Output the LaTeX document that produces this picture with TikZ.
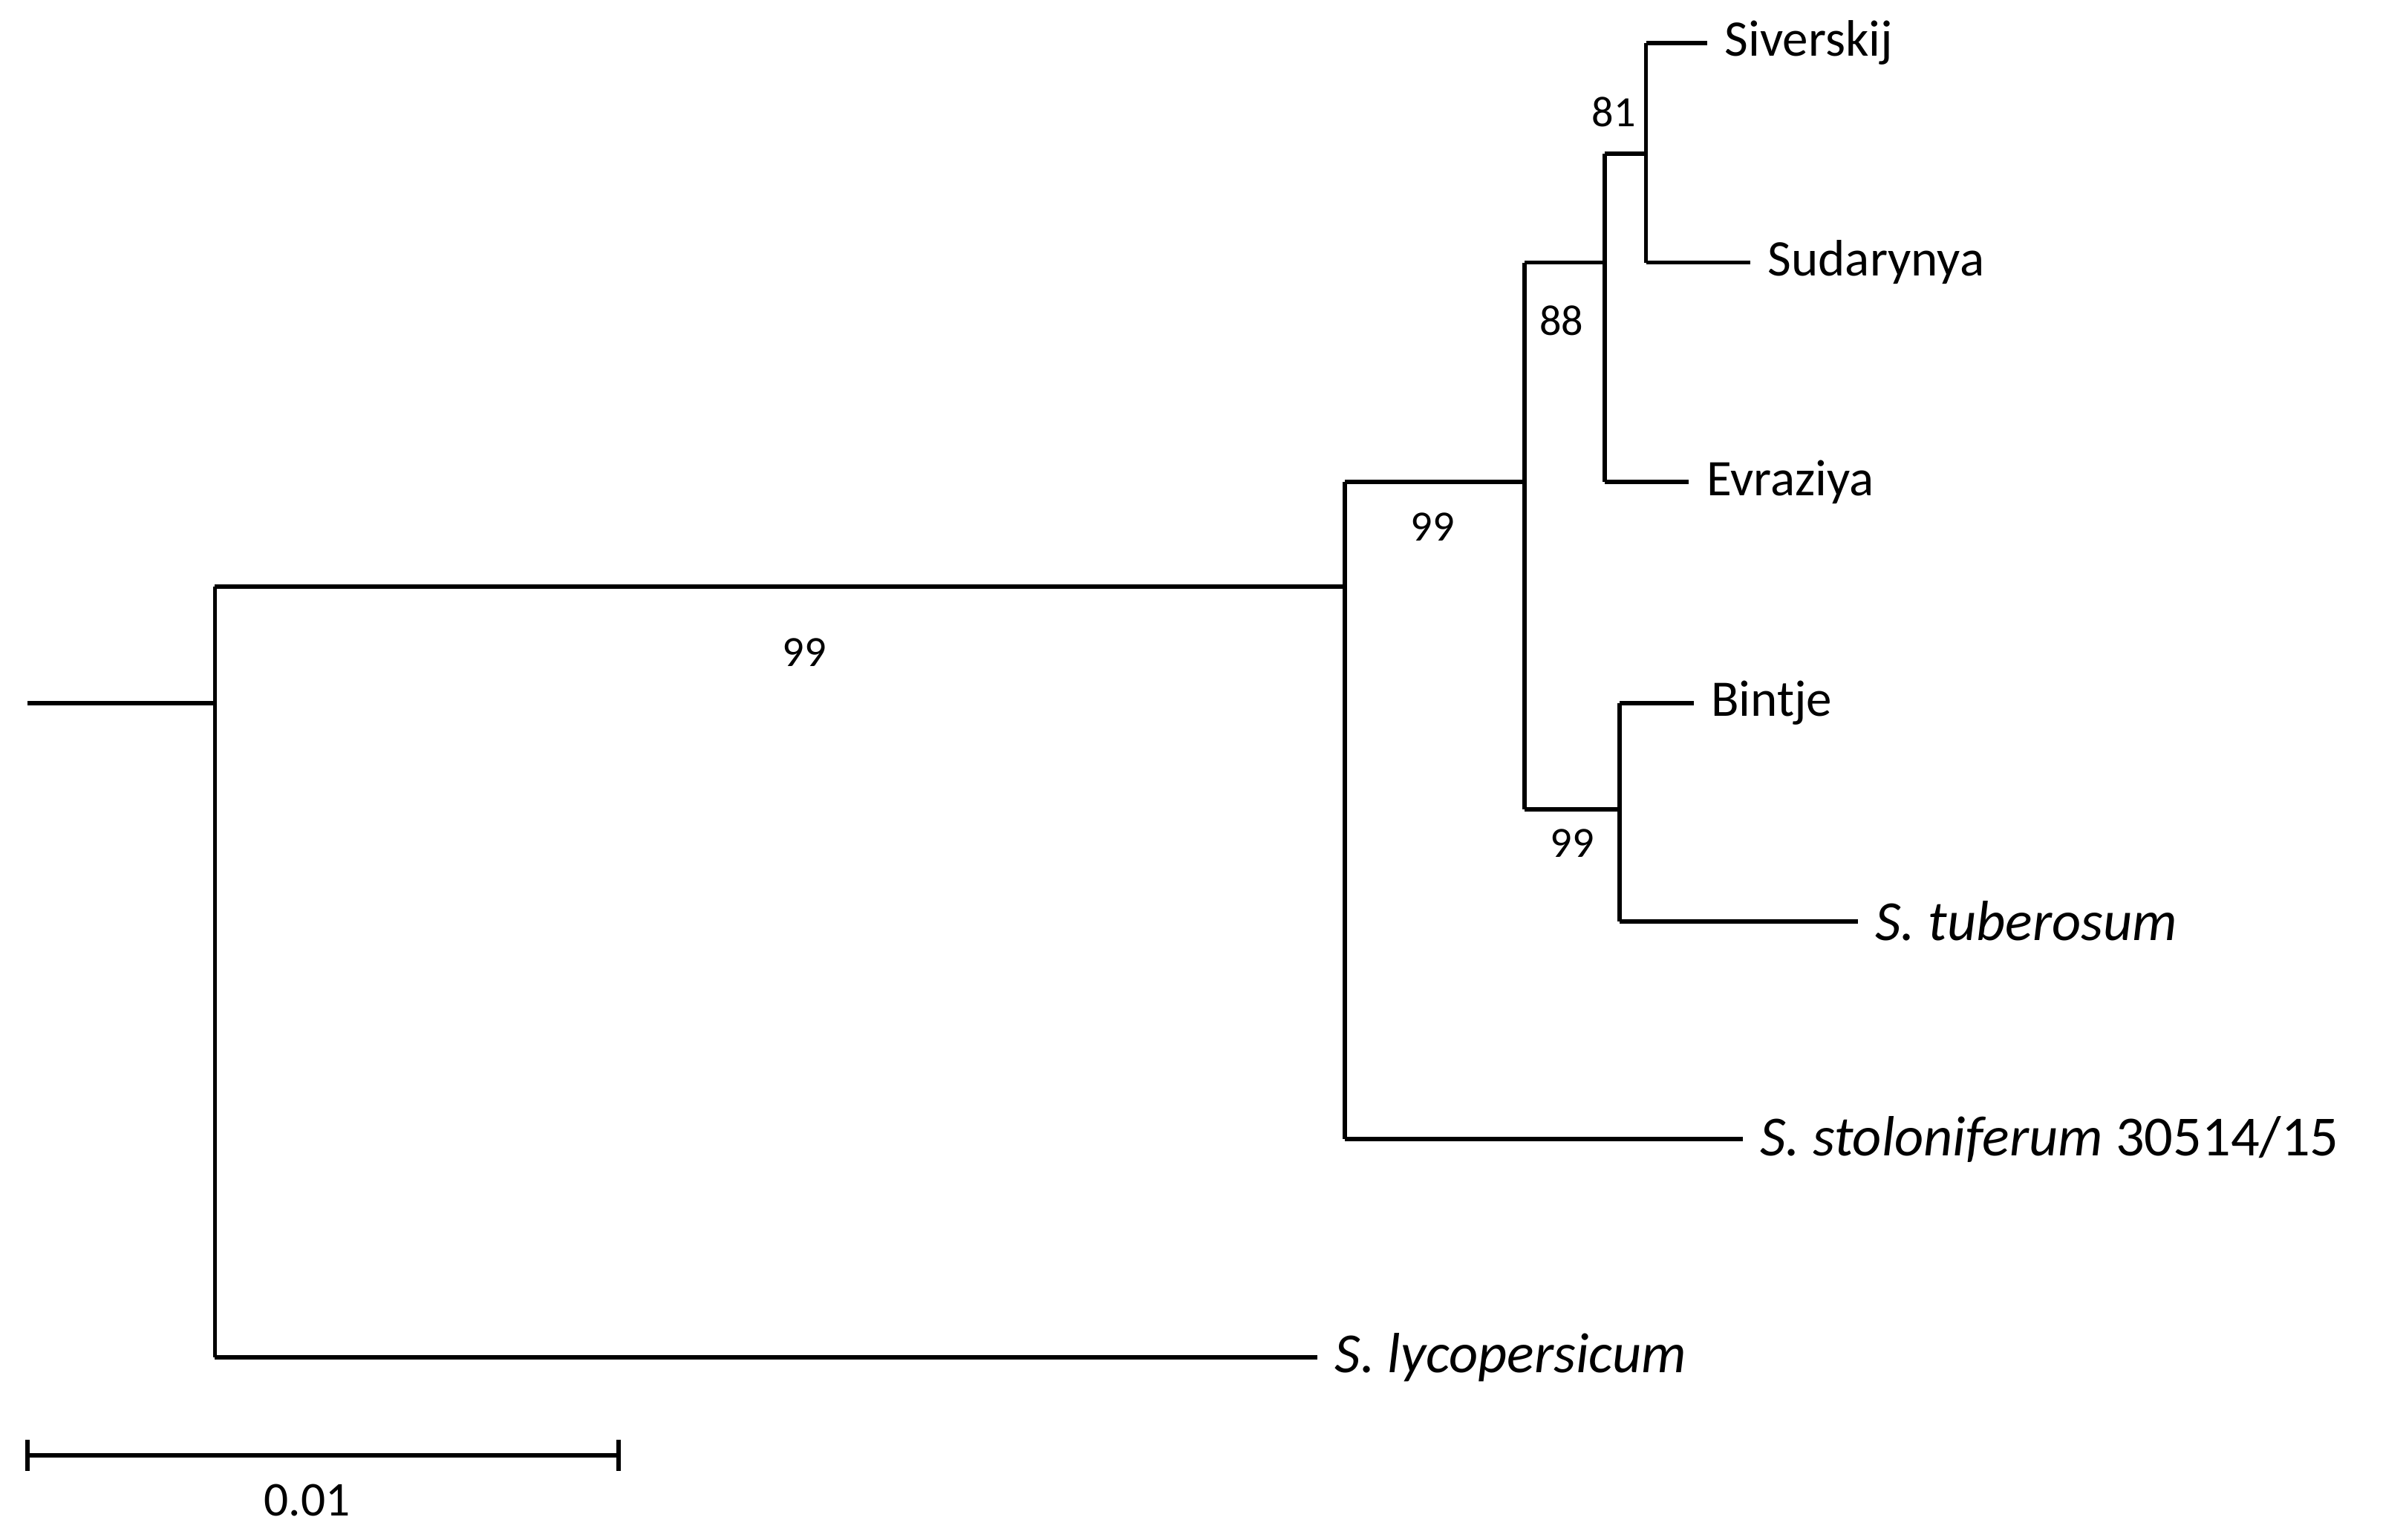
\documentclass[tikz,border=0pt]{standalone}
\usepackage{fontspec}
\setmainfont{Carlito}
\begin{document}
\begin{tikzpicture}[x=0.01cm,y=-0.01cm,line width=0.8pt,
  tax/.style={anchor=west,font=\fontsize{9.5pt}{11pt}\selectfont,inner sep=0pt},
  itx/.style={anchor=west,font=\fontsize{10.5pt}{12pt}\selectfont,inner sep=0pt},
  bs/.style={font=\fontsize{8pt}{10pt}\selectfont,inner sep=0pt}]
\useasboundingbox (0,0) rectangle (1567,1003);
\coordinate (r) at (18,458);
\coordinate (A) at (140,458);
\coordinate (A1) at (140,382); \coordinate (A2) at (140,884);
\coordinate (B) at (876,382);
\coordinate (B1) at (876,314); \coordinate (B2) at (876,742);
\coordinate (C) at (993,314);
\coordinate (C1) at (993,171); \coordinate (C2) at (993,527);
\coordinate (D) at (1045,171);
\coordinate (D1) at (1045,100); \coordinate (D2) at (1045,314);
\coordinate (E) at (1072,100);
\coordinate (E1) at (1072,28); \coordinate (E2) at (1072,171);
\coordinate (F) at (1055,527);
\coordinate (F1) at (1055,458); \coordinate (F2) at (1055,600);
\node[tax] (siv) at (1122,28) {Siverskij};
\node[tax] (sud) at (1150,171) {Sudarynya};
\node[tax] (evr) at (1110,314) {Evraziya};
\node[tax] (bin) at (1113,458) {Bintje};
\node[itx] (tub) at (1220,600) {\textit{S. tuberosum}};
\node[itx] (sto) at (1145,742) {\textit{S. stoloniferum} 30514/15};
\node[itx] (lyc) at (868,884) {\textit{S. lycopersicum}};
\draw (r)--(A);
\draw (A1)--(A2); \draw (A1)--(B);
\draw (A2)--(858,884);
\draw (B1)--(B2); \draw (B1)--(C);
\draw (B2)--(1135,742);
\draw (C1)--(C2); \draw (C1)--(D);
\draw (D1)--(D2); \draw (D1)--(E);
\draw (D2)--(1100,314);
\draw (E1)--(E2); \draw (E1)--(1112,28); \draw (E2)--(1140,171);
\draw (C2)--(F);
\draw (F1)--(F2); \draw (F1)--(1103,458); \draw (F2)--(1210,600);
\node[bs] (b1) at (524,425) {99};
\node[bs] (b2) at (933,343) {99};
\node[bs] (b3) at (1017,209) {88};
\node[bs] (b4) at (1051,73) {81};
\node[bs] (b5) at (1024,549) {99};
\coordinate (s1) at (18,948); \coordinate (s2) at (403,948);
\draw (s1)--(s2);
\draw (18,938)--(18,958); \draw (403,938)--(403,958);
\node[bs,font=\fontsize{9pt}{11pt}\selectfont] (sl) at (200,977) {0.01};
\end{tikzpicture}
\end{document}
